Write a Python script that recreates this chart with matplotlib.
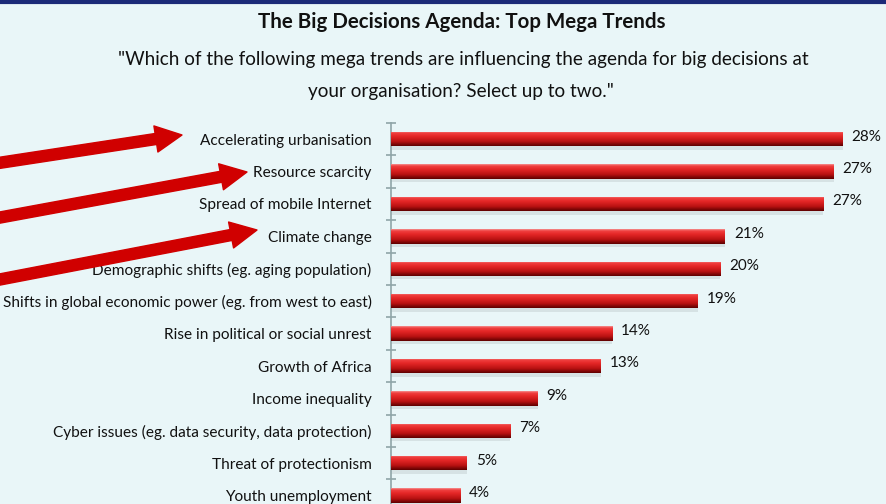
import numpy as np
import matplotlib.pyplot as plt
from matplotlib.colors import LinearSegmentedColormap

# data
trends = ["Accelerating urbanisation",
          "Resource scarcity",
          "Spread of mobile Internet",
          "Climate change",
          "Demographic shifts (eg. aging population)",
          "Shifts in global economic power (eg. from west to east)",
          "Rise in political or social unrest",
          "Growth of Africa",
          "Income inequality",
          "Cyber issues (eg. data security, data protection)",
          "Threat of protectionism",
          "Youth unemployment"]
share = [28.0, 27.45, 26.8, 20.7, 20.4, 19.0, 13.7, 13.0, 9.1, 7.4, 4.7, 4.3]
share_labels = ["28%", "27%", "27%", "21%", "20%", "19%",
                "14%", "13%", "9%", "7%", "5%", "4%"]
highlighted = ["Accelerating urbanisation", "Resource scarcity", "Climate change"]

bg = "#E9F6F8"
plt.rcParams["font.family"] = ["Lato", "DejaVu Sans"]

W, H = 886, 504
fig = plt.figure(figsize=(W / 100, H / 100), dpi=100, facecolor=bg)

# axes: spine at x=391px, top boundary tick at y=123px, 32.4px per row
top_px = 123
row_px = 32.4
ax = fig.add_axes([391 / W, 0, 1 - 391 / W, 1 - top_px / H])
ax.set_facecolor(bg)
n = len(trends)
y = np.arange(n)

h = 0.45
bars = ax.barh(y, share, height=h, color="#D82020", zorder=2)

grad_cmap = LinearSegmentedColormap.from_list(
    "bar", [(0.0, "#F59090"), (0.12, "#F04040"), (0.35, "#E42626"),
            (0.7, "#B81212"), (1.0, "#5E0000")])
grad = np.linspace(0, 1, 64).reshape(-1, 1)
for bar, yi, v in zip(bars, y, share):
    im = ax.imshow(grad, cmap=grad_cmap, aspect="auto", zorder=3,
                   extent=[0, v, yi + h / 2, yi - h / 2], origin="upper")
    im.set_clip_path(bar)
    # faint shadow under each bar
    ax.barh(yi + h / 2 + 0.05, v, height=0.1, color="#000000", alpha=0.08,
            zorder=1)

ax.set_ylim(-0.5 + (H - top_px) / row_px, -0.5)
ax.set_xlim(0, (W - 392) / 16.1)

for yi, v, lab in zip(y, share, share_labels):
    ax.text(v + 0.55, yi - 0.08, lab, va="center", ha="left",
            fontsize=11, color="#111111")

ax.set_yticks(y)
ax.set_yticklabels(trends, fontsize=11.1, color="#111111")
ax.tick_params(axis="y", which="major", length=0, pad=14)
ax.set_yticks(np.arange(n) - 0.5, minor=True)
ax.tick_params(axis="y", which="minor", length=7, direction="inout",
               color="#8FA5A8", width=1.2)
ax.set_xticks([])
for side in ["top", "right", "bottom"]:
    ax.spines[side].set_visible(False)
ax.spines["left"].set_color("#8FA5A8")
ax.spines["left"].set_linewidth(1.2)

# titles
fig.text(462 / W, 1 - 22 / H, "The Big Decisions Agenda: Top Mega Trends",
         ha="center", va="center", fontsize=14.8, fontweight="bold",
         color="#111111")
fig.text(463 / W, 1 - 59 / H,
         "\"Which of the following mega trends are influencing the agenda for big decisions at",
         ha="center", va="center", fontsize=13.6, color="#111111")
fig.text(461 / W, 1 - 92 / H, "your organisation? Select up to two.\"",
         ha="center", va="center", fontsize=13.6, color="#111111")

# red call-out arrows pointing at the highlighted trends
tails = {"Accelerating urbanisation": (-8, 164),
         "Resource scarcity": (-8, 219),
         "Climate change": (-8, 281)}
tips = {"Accelerating urbanisation": (182, 135),
        "Resource scarcity": (247, 172),
        "Climate change": (257, 230)}
for name in highlighted:
    tx, ty = tails[name]
    hx, hy = tips[name]
    fig.add_artist(plt.Annotation(
        "", xy=(hx / W, 1 - hy / H), xytext=(tx / W, 1 - ty / H),
        xycoords="figure fraction", textcoords="figure fraction",
        arrowprops=dict(arrowstyle="simple,head_length=1.0,head_width=1.0,tail_width=0.42",
                        mutation_scale=19, color="#D00000", shrinkA=0, shrinkB=0)))

# dark frame line at the top
fig.add_artist(plt.Line2D([0, 1], [1 - 1.5 / H, 1 - 1.5 / H],
                          transform=fig.transFigure, color="#1B2A78", lw=3))

fig.savefig("out.png", dpi=100, facecolor=bg)
